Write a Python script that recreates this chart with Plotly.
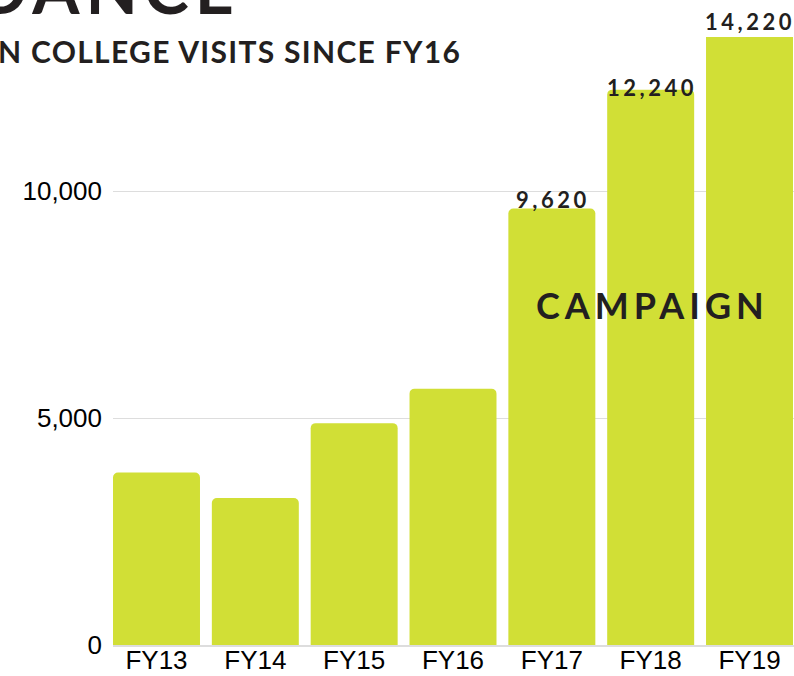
import plotly.graph_objects as go

categories = ["FY13", "FY14", "FY15", "FY16", "FY17", "FY18", "FY19"]
visits = [3800, 3240, 4890, 5650, 9620, 12240, 14220]
value_labels = ["", "", "", "", "9,620", "12,240", "14,220"]
tick_vals = [0, 5000, 10000]
tick_text = ["0", "5,000", "10,000"]

W, H = 794, 676
L, R, T, B = 113, 0, 37, 31
pw, ph = W - L - R, H - T - B

def px(x):
    return (x - L) / pw

def py(y):
    return (H - B - y) / ph

BAR = "#D1DF36"
INK = "#231F20"

fig = go.Figure(go.Bar(
    x=categories, y=visits,
    marker=dict(color=BAR, cornerradius=5, line=dict(width=0)),
    width=0.88, cliponaxis=True,
))

annotations = []
label_pos = {"FY17": 199, "FY18": 87, "FY19": 22}
label_dx = {"FY17": 1, "FY18": 1, "FY19": 0}
for i, (c, lab) in enumerate(zip(categories, value_labels)):
    if lab:
        annotations.append(dict(
            x=c, xref="x", y=py(label_pos[c]), yref="paper", xshift=label_dx[c],
            text=f"<span style='letter-spacing:3.5px'><b>{lab}</b></span>",
            showarrow=False, xanchor="center", yanchor="middle",
            font=dict(family="Lato", size=22, color=INK)))

annotations.append(dict(
    x=px(652), xref="paper", y=py(305), yref="paper",
    text="<span style='letter-spacing:5px'><b>CAMPAIGN</b></span>",
    showarrow=False, xanchor="center", yanchor="middle",
    font=dict(family="Lato", size=36, color=INK)))

annotations.append(dict(
    x=px(-4), xref="paper", y=py(51), yref="paper",
    text="<span style='letter-spacing:1.3px'><b>N COLLEGE VISITS SINCE FY16</b></span>",
    showarrow=False, xanchor="left", yanchor="middle",
    font=dict(family="Lato", size=30, color=INK)))

annotations.append(dict(
    x=px(242), xref="paper", y=py(-12), yref="paper",
    text="<span style='letter-spacing:6px'><b>DANCE</b></span>",
    showarrow=False, xanchor="right", yanchor="middle",
    font=dict(family="Lato", size=68, color=INK)))

fig.update_layout(
    width=W, height=H,
    margin=dict(l=L, r=R, t=T, b=B, pad=0, autoexpand=False),
    paper_bgcolor="white", plot_bgcolor="white",
    showlegend=False,
    annotations=annotations,
    xaxis=dict(range=[-0.44, 6.45], showgrid=False, showline=True,
               linecolor="#DDDDDD", linewidth=1.5, ticks="", automargin=False,
               ticklabelstandoff=-9,
               tickfont=dict(family="Liberation Sans", size=26, color="black")),
    yaxis=dict(range=[0, 13400], tickvals=tick_vals, ticktext=tick_text,
               showgrid=True, gridcolor="#DDDDDD", gridwidth=1,
               zeroline=False, showline=False, ticks="", automargin=False,
               ticklabelstandoff=10,
               tickfont=dict(family="Liberation Sans", size=26, color="black")),
)

fig.write_html("out.html",
               config={"displayModeBar": False},
               post_script="document.body.style.margin='0';document.body.style.overflow='hidden';")
